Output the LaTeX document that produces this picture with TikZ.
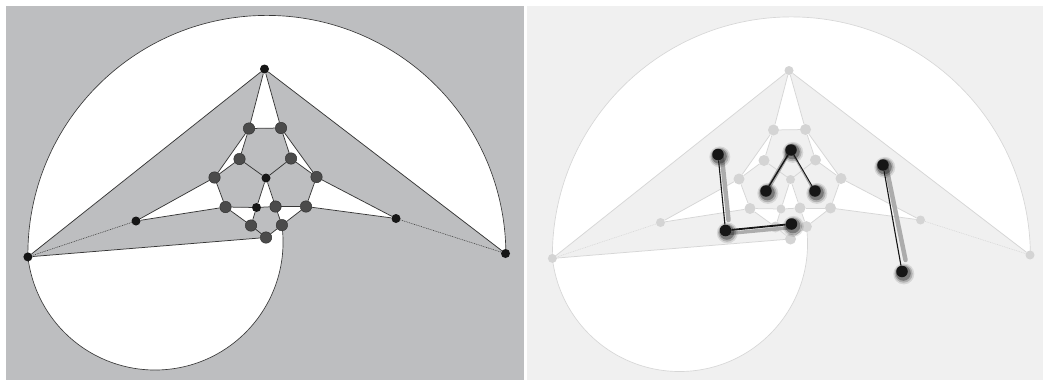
\documentclass[tikz,border=0pt]{standalone}
\usetikzlibrary{calc}
\definecolor{lbg}{RGB}{189,190,192}
\definecolor{rbg}{RGB}{240,240,240}
\definecolor{ledge}{RGB}{55,55,55}
\definecolor{lnode}{RGB}{75,75,75}
\definecolor{lnodeb}{RGB}{45,45,45}
\definecolor{blk}{RGB}{22,22,22}
\definecolor{redge}{RGB}{214,214,214}
\definecolor{rnode}{RGB}{212,212,212}
\definecolor{bandc}{RGB}{172,172,172}
\newcommand\mygraph{%
  % geometry
  \coordinate (T) at (264.5,69);
  \coordinate (P1) at (249,128.5);
  \coordinate (P2) at (281,128);
  \coordinate (P3) at (239.5,159);
  \coordinate (P4) at (291,158.5);
  \coordinate (P5) at (214.5,177.5);
  \coordinate (C) at (266,178);
  \coordinate (P6) at (316.5,177);
  \coordinate (P7) at (225.5,207);
  \coordinate (Cb) at (256.5,207.5);
  \coordinate (P8) at (275.5,206.5);
  \coordinate (P9) at (306,206.5);
  \coordinate (P10) at (251,225.5);
  \coordinate (P11) at (281.9,225.1);
  \coordinate (B) at (266,237.5);
  \coordinate (LI) at (136,221);
  \coordinate (RI) at (396,218.5);
  \coordinate (L) at (27.9,256.9);
  \coordinate (R) at (505.5,253.5);
  % white faces
  \fill[white] (L) arc[start angle=179.4,end angle=359.76,radius=239] -- (T) -- cycle;
  \fill[white] (L) -- (B) -- (P11) arc[start angle=-7.6,end angle=173.3,radius=128] -- cycle;
  \fill[white] (T) -- (P1) -- (P2) -- cycle;
  \fill[white] (P1) -- (P3) -- (P5) -- cycle;
  \fill[white] (P2) -- (P4) -- (P6) -- cycle;
  \fill[white] (C) -- (Cb) -- (P8) -- cycle;
  \fill[white] (P7) -- (Cb) -- (P10) -- cycle;
  \fill[white] (P8) -- (P9) -- (P11) -- cycle;
  \fill[white] (LI) -- (P5) -- (P7) -- cycle;
  \fill[white] (RI) -- (P6) -- (P9) -- cycle;
  % arcs
  \draw[arcline] (L) arc[start angle=179.4,end angle=359.76,radius=239];
  \draw[arcline] (P11) arc[start angle=-7.6,end angle=173.3,radius=128];
  % nodes
  \node[smallnode] (nT) at (T) {};
  \node[bignode] (nP1) at (P1) {};
  \node[bignode] (nP2) at (P2) {};
  \node[bignode] (nP3) at (P3) {};
  \node[bignode] (nP4) at (P4) {};
  \node[bignode] (nP5) at (P5) {};
  \node[smallnode] (nC) at (C) {};
  \node[bignode] (nP6) at (P6) {};
  \node[bignode] (nP7) at (P7) {};
  \node[smallnode] (nCb) at (Cb) {};
  \node[bignode] (nP8) at (P8) {};
  \node[bignode] (nP9) at (P9) {};
  \node[bignode] (nP10) at (P10) {};
  \node[bignode] (nP11) at (P11) {};
  \node[bignode] (nB) at (B) {};
  \node[smallnode] (nLI) at (LI) {};
  \node[smallnode] (nRI) at (RI) {};
  \node[smallnode] (nL) at (L) {};
  \node[smallnode] (nR) at (R) {};
  % edges
  \draw[edgeline] (nT) -- (nL);
  \draw[edgeline] (nT) -- (nR);
  \draw[edgeline] (nT) -- (nP1);
  \draw[edgeline] (nT) -- (nP2);
  \draw[edgeline] (nP1) -- (nP2);
  \draw[edgeline] (nP1) -- (nP3);
  \draw[edgeline] (nP1) -- (nP5);
  \draw[edgeline] (nP2) -- (nP4);
  \draw[edgeline] (nP2) -- (nP6);
  \draw[edgeline] (nP3) -- (nC);
  \draw[edgeline] (nP4) -- (nC);
  \draw[edgeline] (nP3) -- (nP5);
  \draw[edgeline] (nP4) -- (nP6);
  \draw[edgeline] (nP5) -- (nP7);
  \draw[edgeline] (nP6) -- (nP9);
  \draw[edgeline] (nC) -- (nCb);
  \draw[edgeline] (nC) -- (nP8);
  \draw[edgeline] (nP7) -- (nCb);
  \draw[edgeline] (nCb) -- (nP8);
  \draw[edgeline] (nP8) -- (nP9);
  \draw[edgeline] (nP7) -- (nP10);
  \draw[edgeline] (nCb) -- (nP10);
  \draw[edgeline] (nP8) -- (nP11);
  \draw[edgeline] (nP9) -- (nP11);
  \draw[edgeline] (nP10) -- (nB);
  \draw[edgeline] (nP11) -- (nB);
  \draw[edgeline] (nLI) -- (nP5);
  \draw[edgeline] (nLI) -- (nP7);
  \draw[edgeline] (nRI) -- (nP6);
  \draw[edgeline] (nRI) -- (nP9);
  \draw[edgeline] (nL) -- (nB);
  \draw[dotline] (nLI) -- (nL);
  \draw[dotline] (nRI) -- (nR);
}
\newcommand\odotshadow[2]{%
  \fill[black,opacity=0.10] ($(#1,#2)+(1.8,2.4)$) circle[radius=10.5];
  \fill[black,opacity=0.18] ($(#1,#2)+(1.6,2.2)$) circle[radius=9];
  \fill[black,opacity=0.30] ($(#1,#2)+(1.3,1.8)$) circle[radius=7.5];
}
\begin{document}
\begin{tikzpicture}[x=1pt,y=1pt,yscale=-1,
  odot/.style={circle,fill=blk,inner sep=0pt,minimum size=11.5pt},
  ovl/.style={draw=blk,line width=1.1pt},
  band/.style={draw=bandc,line width=4.5pt,line cap=round}]
\useasboundingbox (0,0) rectangle (1043,380);
\fill[white] (0,0) rectangle (1043,380);
% left panel
\fill[lbg] (6,6) rectangle (524,380);
\begin{scope}[name prefix=l-,
  edgeline/.style={draw=ledge,line width=0.75pt},
  dotline/.style={draw=ledge,line width=0.55pt,dash pattern=on 0.9pt off 0.9pt},
  arcline/.style={draw=ledge,line width=0.65pt},
  bignode/.style={circle,fill=lnode,draw=lnodeb,line width=0.4pt,inner sep=0pt,minimum size=11.5pt},
  smallnode/.style={circle,fill=blk,inner sep=0pt,minimum size=9pt}]
  \mygraph
\end{scope}
% right panel
\fill[rbg] (527,6) rectangle (1043,380);
\begin{scope}[name prefix=r-,shift={(524.5,1.5)},
  edgeline/.style={draw=redge,line width=0.75pt},
  dotline/.style={draw=redge,line width=0.55pt,dash pattern=on 0.9pt off 0.9pt},
  arcline/.style={draw=redge,line width=0.65pt},
  bignode/.style={circle,fill=rnode,inner sep=0pt,minimum size=11pt},
  smallnode/.style={circle,fill=rnode,inner sep=0pt,minimum size=9pt}]
  \mygraph
\end{scope}
% overlay shadows
\draw[band] (722,158) -- (728.5,220);
\draw[band,line width=3.5pt] (728,233.5) -- (792,227.5);
\draw[band,line width=4pt] (788.5,153) -- (765,194);
\draw[band,line width=2pt] (793,154) -- (815.5,194);
\draw[band] (886.5,168) -- (905.5,260);
\odotshadow{718}{154.5}
\odotshadow{725.5}{230.5}
\odotshadow{791.5}{224}
\odotshadow{791}{150}
\odotshadow{766}{191}
\odotshadow{815}{191}
\odotshadow{883}{165}
\odotshadow{902}{271.5}
% overlay dots
\node[odot] (a1) at (718,154.5) {};
\node[odot] (a2) at (725.5,230.5) {};
\node[odot] (a3) at (791.5,224) {};
\node[odot] (b1) at (791,150) {};
\node[odot] (b2) at (766,191) {};
\node[odot] (b3) at (815,191) {};
\node[odot] (c1) at (883,165) {};
\node[odot] (c2) at (902,271.5) {};
\draw[ovl] (a1) -- (a2);
\draw[ovl,line width=1.8pt] (a2) -- (a3);
\draw[ovl,line width=1.4pt] (b1) -- (b2);
\draw[ovl,line width=0.9pt] (b1) -- (b3);
\draw[ovl] (c1) -- (c2);
\end{tikzpicture}
\end{document}
